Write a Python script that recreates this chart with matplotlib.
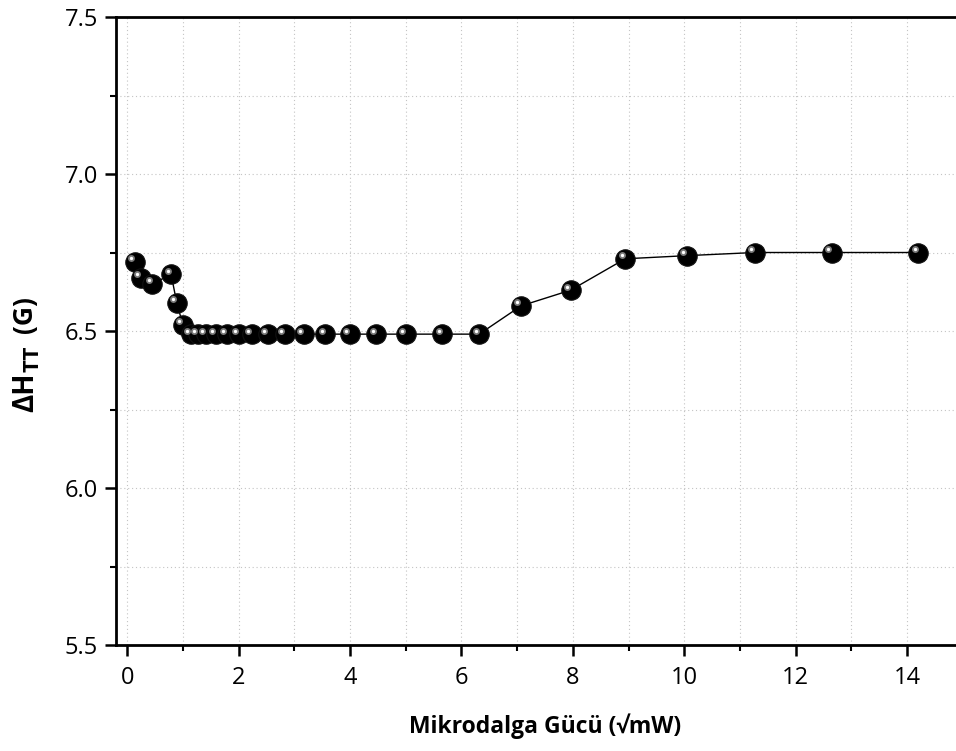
import matplotlib
matplotlib.use("Agg")
import matplotlib.pyplot as plt
import matplotlib.transforms as mtransforms
import numpy as np

# Microwave power (sqrt mW) and peak-to-peak linewidth (G)
power_sqrt = [0.14, 0.25, 0.45, 0.79, 0.89, 1.00, 1.14, 1.27, 1.41, 1.59, 1.79,
              2.00, 2.24, 2.52, 2.83, 3.17, 3.56, 4.00, 4.47, 5.00, 5.66, 6.32,
              7.07, 7.96, 8.94, 10.05, 11.27, 12.65, 14.20]
delta_h = [6.72, 6.67, 6.65, 6.68, 6.59, 6.52, 6.49, 6.49, 6.49, 6.49, 6.49,
           6.49, 6.49, 6.49, 6.49, 6.49, 6.49, 6.49, 6.49, 6.49, 6.49, 6.49,
           6.58, 6.63, 6.73, 6.74, 6.75, 6.75, 6.75]

x_ticks = [0, 2, 4, 6, 8, 10, 12, 14]
y_ticks = [5.5, 6.0, 6.5, 7.0, 7.5]

plt.rcParams['font.family'] = ['Open Sans', 'DejaVu Sans']

W, H = 956, 751
fig = plt.figure(figsize=(W / 100, H / 100), dpi=100)
# the plot frame runs slightly past the right edge of the canvas
ax = fig.add_axes([116 / W, 1 - 645 / H, (974 - 116) / W, (645 - 17) / H])

ax.plot(power_sqrt, delta_h, color='black', lw=1.0, zorder=2)
ax.plot(power_sqrt, delta_h, linestyle='none', marker='o', markersize=14,
        markerfacecolor='black', markeredgecolor='#111111', markeredgewidth=0.8, zorder=3)

# specular highlight on each ball
offset = mtransforms.ScaledTranslation(-2.6 / 72, 2.6 / 72, fig.dpi_scale_trans)
ax.plot(power_sqrt, delta_h, linestyle='none', marker='o', markersize=5,
        markerfacecolor='#7a7a7a', markeredgecolor='none',
        transform=ax.transData + offset, zorder=4)
ax.plot(power_sqrt, delta_h, linestyle='none', marker='o', markersize=2.4,
        markerfacecolor='white', markeredgecolor='none',
        transform=ax.transData + offset, zorder=5)

ax.set_xlim(-0.2, 15.2)
ax.set_ylim(5.5, 7.5)
ax.set_xticks(x_ticks)
ax.set_yticks(y_ticks)
ax.set_yticklabels([f"{v:.1f}" for v in y_ticks])
ax.set_xticks(np.arange(1, 16, 2), minor=True)
ax.set_yticks([5.75, 6.25, 6.75, 7.25], minor=True)

ax.grid(True, which='both', linestyle=(0, (1, 2.5)), color='#c4c4c4', lw=0.8)
ax.set_axisbelow(True)

for side in ['left', 'bottom', 'top', 'right']:
    ax.spines[side].set_linewidth(2.0)

ax.tick_params(which='major', direction='out', length=8, width=1.8, labelsize=17,
               top=False, right=False)
ax.tick_params(which='minor', direction='out', length=4, width=1.5,
               top=False, right=False)
ax.tick_params(axis='x', pad=7)
ax.tick_params(axis='y', pad=5)

ax.set_xlabel('Mikrodalga Gücü (√mW)', fontsize=16.5, fontweight='bold', labelpad=17)

# y-axis title: ΔH with a TT subscript, then the unit; pieces placed end to end
renderer = fig.canvas.get_renderer()

def vtext(s, x_px, y_px_from_top, size):
    return fig.text(x_px / W, 1 - y_px_from_top / H, s, rotation=90,
                    rotation_mode='anchor', ha='left', va='baseline',
                    fontsize=size, fontweight='bold')

def top_of(t):
    bb = t.get_window_extent(renderer)
    return H - bb.y1  # pixel row measured from the top

t1 = vtext('ΔH', 33, 412, 20)
t2 = vtext('TT', 38.5, top_of(t1) - 1, 16)
t3 = vtext('(G)', 32, top_of(t2) - 12, 19)

fig.savefig('out.png', dpi=100)
